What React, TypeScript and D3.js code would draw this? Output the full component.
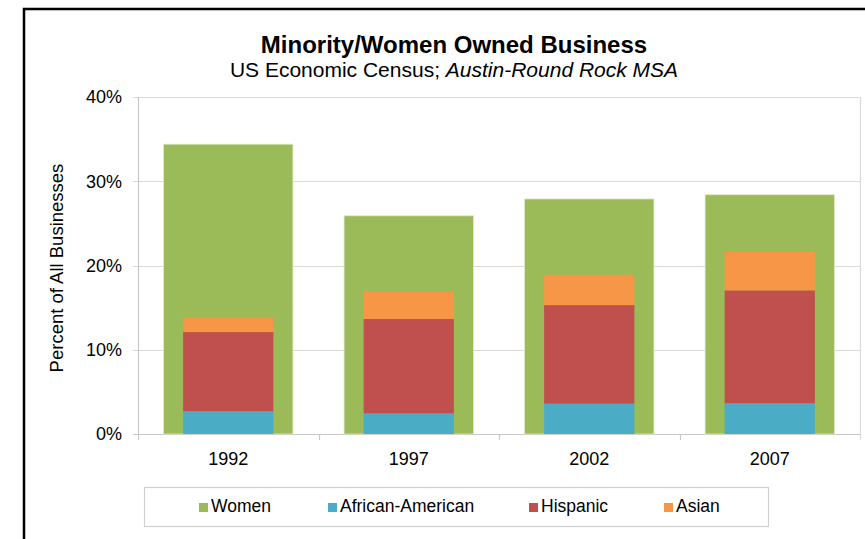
import React from "react";
import * as d3 from "d3";

const years = ["1992", "1997", "2002", "2007"];
const women = [34.4, 25.9, 27.9, 28.4];
const africanAmerican = [2.7, 2.45, 3.6, 3.65];
const hispanic = [9.4, 11.2, 11.7, 13.4];
const asian = [1.7, 3.25, 3.6, 4.55];
const yTicks = [0, 10, 20, 30, 40];
const stackKeys = ["African-American", "Hispanic", "Asian"];
const legendItems = ["Women", "African-American", "Hispanic", "Asian"];

const colors: Record<string, string> = {
  Women: "#9BBB59",
  "African-American": "#4BACC6",
  Hispanic: "#C0504D",
  Asian: "#F79646",
};

const W = 865;
const H = 539;
const left = 138;
const right = 860;
const top = 97;
const bottom = 434;
const font = "'Liberation Sans', Arial, sans-serif";

export default function App() {
  const y = d3.scaleLinear().domain([0, 40]).range([bottom, top]);
  const xOuter = d3.scaleBand<string>().domain(years).range([left, right]).paddingInner(51 / 180).paddingOuter(51 / 360);
  const xInner = d3.scaleBand<string>().domain(years).range([left, right]).paddingInner(0.5).paddingOuter(0.25);
  const xCat = d3.scaleBand<string>().domain(years).range([left, right]).padding(0);

  const rows = years.map((yr, i) => ({
    year: yr,
    "African-American": africanAmerican[i],
    Hispanic: hispanic[i],
    Asian: asian[i],
  }));
  const stacked = d3.stack<any>().keys(stackKeys)(rows);

  const legendX = [199, 328, 529, 664];

  return (
    <svg width={W} height={H} style={{ position: "absolute", left: 0, top: 0 }} fontFamily={font}>
      <rect x={0} y={0} width={W} height={H} fill="#fff" />
      <rect x={24} y={9} width={W + 20} height={H + 20} fill="none" stroke="#000" strokeWidth={2.5} />

      <text x={454} y={53} textAnchor="middle" fontSize={24} fontWeight="bold" fill="#000">
        Minority/Women Owned Business
      </text>
      <text x={454} y={77} textAnchor="middle" fontSize={21} fill="#000">
        US Economic Census; <tspan fontStyle="italic">Austin-Round Rock MSA</tspan>
      </text>

      {/* gridlines */}
      {yTicks.map((t) => (
        <g key={t}>
          <line x1={left - 5} x2={right} y1={Math.round(y(t)) + 0.5} y2={Math.round(y(t)) + 0.5} stroke={t === 0 ? "#c8c8c8" : "#d9d9d9"} strokeWidth={1.2} />
          <text x={122} y={y(t)} dy="0.35em" textAnchor="end" fontSize={18} fill="#000">
            {t}%
          </text>
        </g>
      ))}
      <line x1={left + 0.5} x2={left + 0.5} y1={top} y2={bottom + 6} stroke="#c8c8c8" strokeWidth={1.2} />
      <line x1={right + 0.5} x2={right + 0.5} y1={top} y2={bottom + 6} stroke="#d9d9d9" strokeWidth={1.2} />
      {years.slice(1).map((yr) => (
        <line key={yr} x1={Math.round(xCat(yr)!) + 0.5} x2={Math.round(xCat(yr)!) + 0.5} y1={bottom} y2={bottom + 6} stroke="#c8c8c8" strokeWidth={1.2} />
      ))}

      {/* women bars */}
      {years.map((yr, i) => (
        <rect key={yr} x={xOuter(yr)} y={y(women[i])} width={xOuter.bandwidth()} height={y(0) - y(women[i])} fill={colors.Women} stroke="#dfe9c8" strokeWidth={0.8} />
      ))}

      {/* stacked minority bars */}
      {stacked.map((s) => (
        <g key={s.key}>
          {s.map((d, i) => (
            <rect key={i} x={xInner(years[i])} y={y(d[1])} width={xInner.bandwidth()} height={y(d[0]) - y(d[1])} fill={colors[s.key]} />
          ))}
        </g>
      ))}

      {/* x labels */}
      {years.map((yr) => (
        <text key={yr} x={xCat(yr)! + xCat.bandwidth() / 2} y={465} textAnchor="middle" fontSize={18} fill="#000">
          {yr}
        </text>
      ))}

      <text transform="translate(63,268) rotate(-90)" textAnchor="middle" fontSize={18.5} fill="#000">
        Percent of All Businesses
      </text>

      {/* legend */}
      <rect x={144.5} y={487.5} width={624} height={39} fill="#fff" stroke="#d0d0d0" strokeWidth={1.2} />
      {legendItems.map((k, i) => (
        <g key={k}>
          <rect x={legendX[i]} y={503} width={9} height={9} fill={colors[k]} />
          <text x={legendX[i] + 12} y={512} fontSize={17.5} fill="#000">
            {k}
          </text>
        </g>
      ))}
    </svg>
  );
}
